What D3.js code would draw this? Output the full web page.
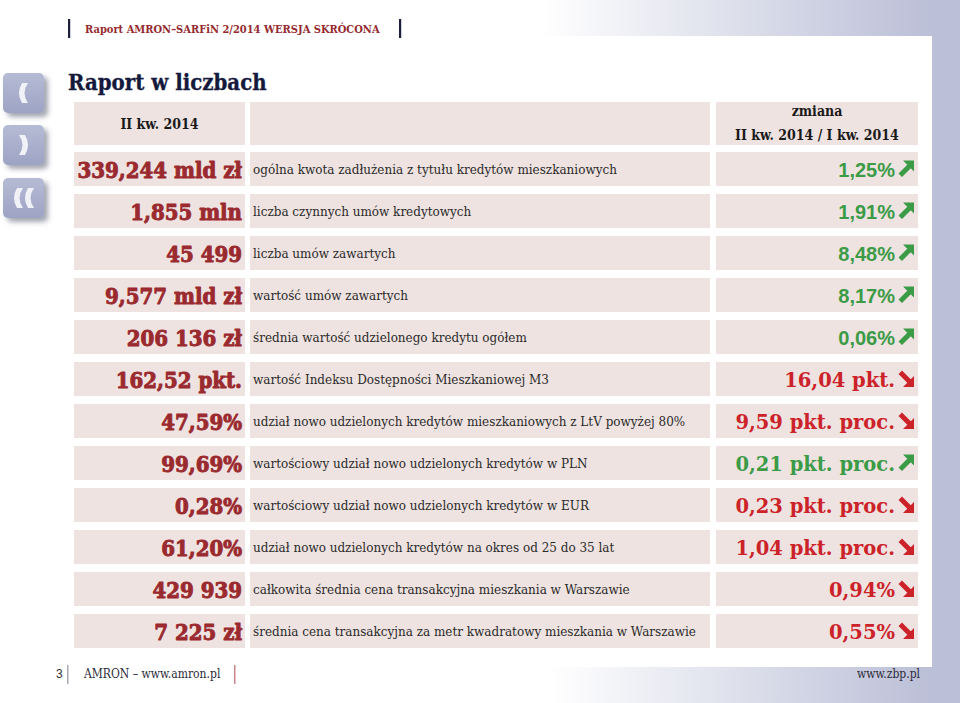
<!DOCTYPE html>
<html><head><meta charset="utf-8">
<script src="https://cdn.jsdelivr.net/npm/d3@7"></script>
<style>html,body{margin:0;padding:0;background:#fff;}svg{display:block;}</style>
</head><body>
<script>
// ---- data ----
const values = ["339,244 mld zł","1,855 mln","45 499","9,577 mld zł","206 136 zł","162,52 pkt.","47,59%","99,69%","0,28%","61,20%","429 939","7 225 zł"];
const descriptions = [
  "ogólna kwota zadłużenia z tytułu kredytów mieszkaniowych",
  "liczba czynnych umów kredytowych",
  "liczba umów zawartych",
  "wartość umów zawartych",
  "średnia wartość udzielonego kredytu ogółem",
  "wartość Indeksu Dostępności Mieszkaniowej M3",
  "udział nowo udzielonych kredytów mieszkaniowych z LtV powyżej 80%",
  "wartościowy udział nowo udzielonych kredytów w PLN",
  "wartościowy udział nowo udzielonych kredytów w EUR",
  "udział nowo udzielonych kredytów na okres od 25 do 35 lat",
  "całkowita średnia cena transakcyjna mieszkania w Warszawie",
  "średnia cena transakcyjna za metr kwadratowy mieszkania w Warszawie"
];
const changes = ["1,25%","1,91%","8,48%","8,17%","0,06%","16,04 pkt.","9,59 pkt. proc.","0,21 pkt. proc.","0,23 pkt. proc.","1,04 pkt. proc.","0,94%","0,55%"];
const directions = ["up","up","up","up","up","down","down","up","down","down","down","down"];
const headerLeft = "II kw. 2014";
const headerRight = ["zmiana","II kw. 2014 / I kw. 2014"];

// ---- drawing ----
const W = 960, H = 703;
const svg = d3.select("body").append("svg").attr("width", W).attr("height", H);
const defs = svg.append("defs");

const gTop = defs.append("linearGradient").attr("id","gTop").attr("x1","0").attr("x2","1").attr("y1","0").attr("y2","0");
gTop.append("stop").attr("offset","0").attr("stop-color","#ffffff");
gTop.append("stop").attr("offset","1").attr("stop-color","#bbbfd7");
const gBtn = defs.append("linearGradient").attr("id","gBtn").attr("x1","0").attr("x2","0").attr("y1","0").attr("y2","1");
gBtn.append("stop").attr("offset","0").attr("stop-color","#b6bbd5");
gBtn.append("stop").attr("offset","1").attr("stop-color","#9da3c3");
const sh = defs.append("filter").attr("id","shadow").attr("x","-30%").attr("y","-30%").attr("width","170%").attr("height","170%");
sh.append("feDropShadow").attr("dx",4).attr("dy",4).attr("stdDeviation",2.5).attr("flood-color","#4a4f66").attr("flood-opacity",0.5);

// background bands
svg.append("rect").attr("x",932).attr("y",0).attr("width",28).attr("height",H).attr("fill","#bbbfd7");
svg.append("rect").attr("x",540).attr("y",0).attr("width",392).attr("height",36).attr("fill","url(#gTop)");
svg.append("rect").attr("x",550).attr("y",667).attr("width",382).attr("height",36).attr("fill","url(#gTop)");

const serifC = "'DejaVu Serif Condensed','DejaVu Serif',serif";
const serif = "'DejaVu Serif',serif";
const sans = "'Liberation Sans','DejaVu Sans',sans-serif";

// top header
svg.append("rect").attr("x",68).attr("y",19).attr("width",2.2).attr("height",19).attr("fill","#1b1f3b");
svg.append("rect").attr("x",399).attr("y",19).attr("width",2.2).attr("height",19).attr("fill","#1b1f3b");
svg.append("text").attr("x",85).attr("y",33).attr("font-family",serifC).attr("font-weight","bold")
  .attr("font-size",11).attr("fill","#962b30").text("Raport AMRON–SARFiN 2/2014 WERSJA SKRÓCONA");

// title
svg.append("text").attr("x",68).attr("y",90).attr("font-family",serifC).attr("font-weight","bold")
  .attr("font-size",22).attr("fill","#151a3c").attr("stroke","#151a3c").attr("stroke-width",0.3).text("Raport w liczbach");

// nav buttons
const buttons = [
  {y:73, d:"M25,10 Q18,20 25,30 L19,30 Q13,20 19,10 Z"},
  {y:125, d:"M16,10 Q23,20 16,30 L22,30 Q28,20 22,10 Z"},
  {y:178, d:"M20,10 Q13,20 20,30 L14,30 Q8,20 14,10 Z M31,10 Q24,20 31,30 L25,30 Q19,20 25,10 Z"}
];
const bg = svg.selectAll("g.btn").data(buttons).join("g").attr("class","btn")
  .attr("transform", d => `translate(3,${d.y})`);
bg.append("rect").attr("width",41).attr("height",40).attr("rx",5).attr("fill","url(#gBtn)").attr("filter","url(#shadow)");
bg.append("path").attr("d", d => d.d).attr("fill","#f1f2f8");

// table geometry
const colX = [74, 250, 716];
const colW = [171, 460, 202];
const rowFill = "#efe3e1";
const y = d3.scaleBand().domain(d3.range(values.length)).range([152, 648]).paddingInner(0.19);

// header row
[0,1,2].forEach(i => svg.append("rect").attr("x",colX[i]).attr("y",102).attr("width",colW[i]).attr("height",43).attr("fill",rowFill));
svg.append("text").attr("x",colX[0]+colW[0]/2).attr("y",129).attr("text-anchor","middle")
  .attr("font-family",serifC).attr("font-weight","bold").attr("font-size",14).attr("fill","#1a1a1a").text(headerLeft);
svg.selectAll("text.hr").data(headerRight).join("text").attr("class","hr")
  .attr("x",colX[2]+colW[2]/2).attr("y",(d,i)=>116+i*24).attr("text-anchor","middle")
  .attr("font-family",serifC).attr("font-weight","bold").attr("font-size",14).attr("fill","#1a1a1a").text(d=>d);

const rows = svg.selectAll("g.row").data(values.map((v,i)=>({v, desc:descriptions[i], ch:changes[i], dir:directions[i], i})))
  .join("g").attr("class","row").attr("transform", d => `translate(0,${y(d.i)})`);
const bh = y.bandwidth();
[0,1,2].forEach(c => rows.append("rect").attr("x",colX[c]).attr("y",0).attr("width",colW[c]).attr("height",bh).attr("fill",rowFill));

const valRed = "#9a2a2f";
rows.append("text").attr("x",242).attr("y",26).attr("text-anchor","end")
  .attr("font-family",serifC).attr("font-weight","bold").attr("font-size",22)
  .attr("fill",valRed).attr("stroke",valRed).attr("stroke-width",0.9).attr("stroke-linejoin","round").text(d=>d.v);

rows.append("text").attr("x",253).attr("y",22)
  .attr("font-family",serif).attr("font-size",12).attr("fill","#2a2a2a").text(d=>d.desc);

const green = "#3b9b47", red = "#cc2229";
const isSerifChange = d => d.i >= 5;
rows.append("text").attr("x",895).attr("y",25).attr("text-anchor","end")
  .attr("font-family", d => isSerifChange(d) ? serif : sans)
  .attr("font-weight", "bold")
  .attr("font-size", d => isSerifChange(d) ? 19.5 : 20)
  .attr("fill", d => d.dir==="up" ? green : red).text(d=>d.ch);

const upArrow = "M5,0 L16,0 L16,11 Z M0.5,13 L9.5,4 L13,7.5 L4,16.5 Z";
const downArrow = "M5,16.5 L16,16.5 L16,5.5 Z M0.5,3.5 L9.5,12.5 L13,9 L4,0 Z";
rows.append("path").attr("transform","translate(898,8.5)")
  .attr("d", d => d.dir==="up" ? upArrow : downArrow)
  .attr("fill", d => d.dir==="up" ? green : red);

// footer
svg.append("text").attr("x",56).attr("y",678).attr("font-family",sans).attr("font-size",12).attr("fill","#333").text("3");
svg.append("rect").attr("x",67).attr("y",665).attr("width",1.5).attr("height",19).attr("fill","#a9a9b4");
svg.append("text").attr("x",84).attr("y",678).attr("font-family",serifC).attr("font-size",12).attr("fill","#2c2c3a").text("AMRON – www.amron.pl");
svg.append("rect").attr("x",234).attr("y",665).attr("width",1.5).attr("height",19).attr("fill","#c9868b");
svg.append("text").attr("x",920).attr("y",678).attr("text-anchor","end").attr("font-family",serifC).attr("font-size",12).attr("fill","#2c2c3a").text("www.zbp.pl");
</script>
</body></html>
